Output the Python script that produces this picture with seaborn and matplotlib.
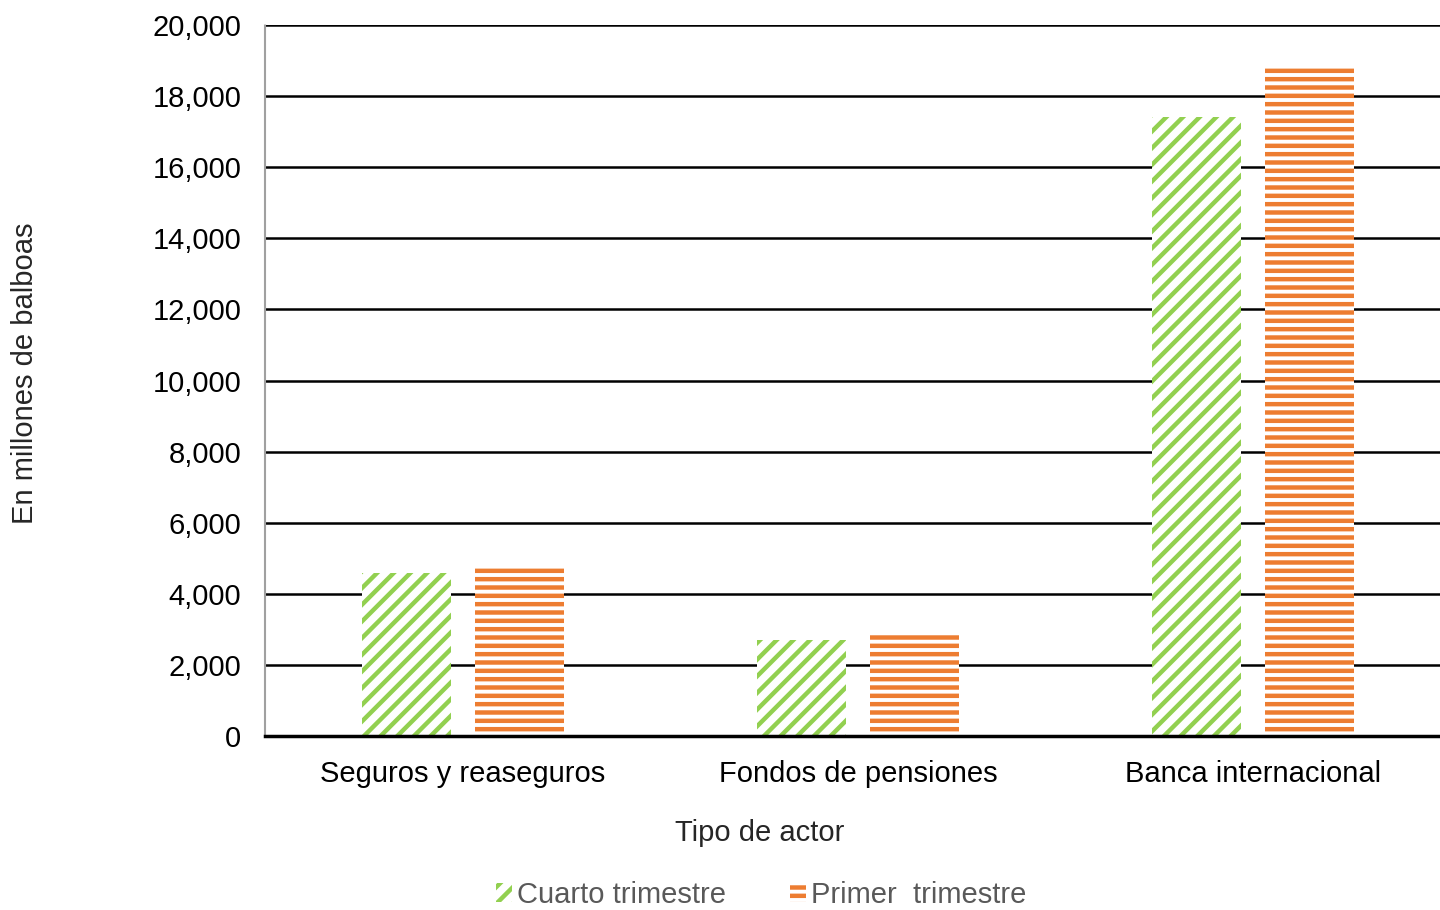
import matplotlib
matplotlib.use("Agg")
import matplotlib.pyplot as plt
import matplotlib.patches as mpatches
import seaborn as sns
import pandas as pd

# Data
categorias = ["Seguros y reaseguros", "Fondos de pensiones", "Banca internacional"]
cuarto = [4590, 2700, 17410]
primer = [4780, 2900, 18850]
series = ["Cuarto trimestre", "Primer  trimestre"]

df = pd.DataFrame({
    "Tipo de actor": categorias * 2,
    "Valor": cuarto + primer,
    "Serie": [series[0]] * 3 + [series[1]] * 3,
})

sns.set_style("white")
plt.rcParams["font.family"] = ["Liberation Sans", "DejaVu Sans"]
plt.rcParams["hatch.linewidth"] = 3.2

verde = "#92d050"
naranja = "#ed7d31"

fig = plt.figure(figsize=(14.4, 9.1), dpi=100)
ax = fig.add_axes([265 / 1440, 174 / 910, 1175 / 1440, 711 / 910])

sns.barplot(data=df, x="Tipo de actor", y="Valor", hue="Serie", ax=ax,
            width=0.57, gap=0.21, legend=False, palette=[verde, naranja])

# hatches
for i, bar in enumerate(ax.patches):
    if i < 3:
        bar.set_facecolor("white")
        bar.set_edgecolor(verde)
        bar.set_hatch("//")
    else:
        bar.set_facecolor("white")
        bar.set_edgecolor(naranja)
        bar.set_hatch("--")
    bar.set_linewidth(0)

ax.set_ylim(0, 20000)
ax.set_xlim(-0.501, 2.474)
ax.set_yticks(range(0, 20001, 2000))
ax.set_yticklabels([f"{v:,}" for v in range(0, 20001, 2000)])
ax.yaxis.grid(True, color="black", linewidth=1.8)
ax.set_axisbelow(True)

for s in ["top", "right"]:
    ax.spines[s].set_visible(False)
ax.spines["left"].set_color("#a0a0a0")
ax.spines["left"].set_linestyle((0, (1, 1)))
ax.spines["left"].set_linewidth(1.5)
ax.spines["bottom"].set_color("black")
ax.spines["bottom"].set_linewidth(2.5)

ax.tick_params(axis="y", labelsize=21, pad=17, length=0, colors="black")
ax.tick_params(axis="x", labelsize=21, pad=17, length=0, colors="black")
ax.set_xlabel("")
ax.set_ylabel("")

fig.text(25 / 1440, 1 - 373 / 910, "En millones de balboas", rotation=90,
         ha="center", va="center", fontsize=21)
fig.text(760 / 1440, 1 - 833 / 910, "Tipo de actor", ha="center", va="center",
         fontsize=21)

handles = [
    mpatches.Patch(facecolor="white", edgecolor=verde, hatch="//", linewidth=0),
    mpatches.Patch(facecolor="white", edgecolor=naranja, hatch="--", linewidth=0),
]
fig.legend(handles, series, loc="center", bbox_to_anchor=(761 / 1440, 1 - 895 / 910),
           ncol=2, frameon=False, fontsize=21, labelcolor="#595959",
           handlelength=0.55, handleheight=0.6, handletextpad=0.17, columnspacing=2.2)

fig.savefig("out.png", dpi=100)
